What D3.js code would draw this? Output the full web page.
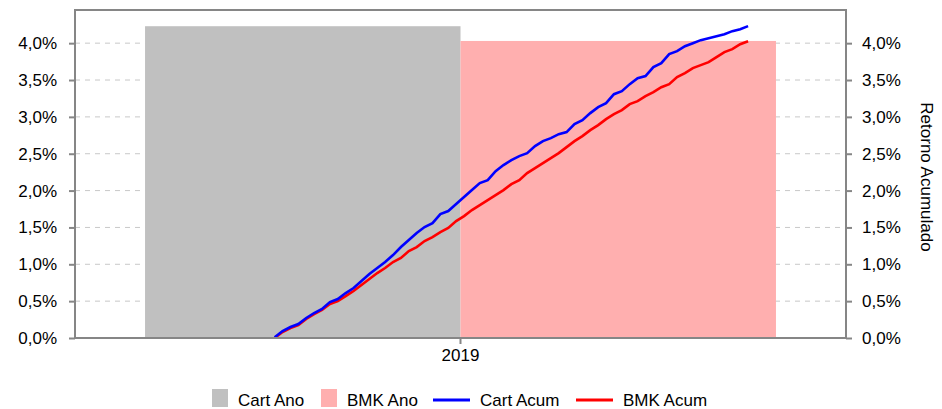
<!DOCTYPE html>
<html lang="pt">
<head>
    <meta charset="UTF-8">
    <title>Retorno Acumulado</title>
    <script src="https://d3js.org/d3.v7.min.js"></script>
    <style>
        body { margin: 0; background: #fff; }
        svg { display: block; font-family: "Liberation Sans", Arial, sans-serif; }
        .grid line { stroke: #c8c8c8; stroke-dasharray: 5,5; }
        .eixo { stroke: #868686; stroke-width: 2; fill: none; }
        .rotulo { font-size: 17px; fill: #000; }
    </style>
</head>
<body>
    <svg width="942" height="409"></svg>

    <script>
        // Dados
        const anos = ["2019"];
        const series = ["Cart Ano", "BMK Ano"];
        const cartAno = [4.23];
        const bmkAno = [4.03];
        const yTicks = [0, 0.5, 1, 1.5, 2, 2.5, 3, 3.5, 4];

        // pregões (índice) e retorno acumulado em %
        const pregoes = d3.range(61);
        const cartAcum = [0.01, 0.095, 0.149, 0.190, 0.271, 0.339, 0.393, 0.488, 0.529, 0.610,
            0.678, 0.773, 0.868, 0.949, 1.031, 1.125, 1.234, 1.329, 1.424, 1.505,
            1.559, 1.681, 1.722, 1.817, 1.912, 2.007, 2.102, 2.142, 2.264, 2.346,
            2.414, 2.468, 2.508, 2.603, 2.671, 2.712, 2.766, 2.793, 2.902, 2.956,
            3.051, 3.132, 3.186, 3.308, 3.349, 3.444, 3.525, 3.553, 3.675, 3.729,
            3.851, 3.892, 3.959, 4.000, 4.041, 4.068, 4.095, 4.122, 4.163, 4.190, 4.231];
        const bmkAcum = [0.0, 0.081, 0.136, 0.176, 0.258, 0.325, 0.380, 0.461, 0.502, 0.569,
            0.637, 0.719, 0.800, 0.881, 0.949, 1.031, 1.085, 1.180, 1.234, 1.315,
            1.369, 1.437, 1.492, 1.586, 1.654, 1.736, 1.803, 1.871, 1.939, 2.007,
            2.088, 2.142, 2.237, 2.305, 2.373, 2.441, 2.508, 2.590, 2.671, 2.739,
            2.820, 2.888, 2.969, 3.037, 3.092, 3.173, 3.214, 3.281, 3.336, 3.403,
            3.444, 3.539, 3.593, 3.661, 3.702, 3.742, 3.810, 3.878, 3.919, 3.986, 4.027];

        const svg = d3.select("svg");
        const m = { left: 75, right: 846, top: 10, bottom: 338 };
        const w = m.right - m.left;
        const fmt = d => d3.format(".1f")(d).replace(".", ",") + "%";

        const y = d3.scaleLinear().domain([0, 4.45]).range([m.bottom, m.top]);
        const x = d3.scaleBand().domain(anos).range([m.left, m.right]).paddingInner(0).paddingOuter(0.111);
        const xs = d3.scaleBand().domain(series).range([0, x.bandwidth()]);
        const xl = d3.scaleLinear().domain([0, 60]).range([m.left + 0.259 * w, m.left + 0.873 * w]);

        // grade
        svg.append("g").attr("class", "grid")
            .selectAll("line").data(yTicks.filter(d => d > 0)).enter().append("line")
            .attr("x1", m.left).attr("x2", m.right)
            .attr("y1", d => y(d)).attr("y2", d => y(d));

        // barras
        const cores = { "Cart Ano": "#c0c0c0", "BMK Ano": "#ffafaf" };
        const barras = anos.map((a, i) => [
            { ano: a, s: "Cart Ano", v: cartAno[i] },
            { ano: a, s: "BMK Ano", v: bmkAno[i] }
        ]).flat();
        svg.append("g").selectAll("rect").data(barras).enter().append("rect")
            .attr("x", d => x(d.ano) + xs(d.s))
            .attr("width", xs.bandwidth())
            .attr("y", d => y(d.v))
            .attr("height", d => y(0) - y(d.v))
            .attr("fill", d => cores[d.s]);

        // linhas
        const linha = vals => d3.line().x((d, i) => xl(pregoes[i])).y(d => y(d))(vals);
        svg.append("path").attr("d", linha(bmkAcum))
            .attr("fill", "none").attr("stroke", "#ff0000").attr("stroke-width", 2.6);
        svg.append("path").attr("d", linha(cartAcum))
            .attr("fill", "none").attr("stroke", "#0000ff").attr("stroke-width", 2.6);

        // moldura e eixos
        svg.append("path").attr("class", "eixo")
            .attr("d", `M${m.left},${m.bottom}V${m.top}H${m.right}V${m.bottom}Z`);

        const eixoE = d3.axisLeft(y).tickValues(yTicks).tickFormat(fmt).tickSize(6).tickPadding(12);
        const eixoD = d3.axisRight(y).tickValues(yTicks).tickFormat(fmt).tickSize(6).tickPadding(10);
        const eixoX = d3.axisBottom(x).tickSize(6).tickPadding(5);

        [[eixoE, `translate(${m.left},0)`], [eixoD, `translate(${m.right},0)`], [eixoX, `translate(0,${m.bottom})`]]
            .forEach(([ax, tr]) => {
                const g = svg.append("g").attr("transform", tr).call(ax);
                g.select(".domain").remove();
                g.selectAll(".tick line").attr("stroke", "#868686").attr("stroke-width", 2);
                g.selectAll("text").attr("class", "rotulo").attr("fill", "#000")
                    .style("font-size", "17px").style("font-family", "Liberation Sans, Arial, sans-serif");
            });

        svg.append("text").attr("class", "rotulo")
            .attr("transform", `translate(921,177) rotate(90)`)
            .attr("text-anchor", "middle").text("Retorno Acumulado");

        // legenda
        const legenda = [
            { nome: "Cart Ano", tipo: "rect", cor: "#c0c0c0", x: 212 },
            { nome: "BMK Ano", tipo: "rect", cor: "#ffafaf", x: 321 },
            { nome: "Cart Acum", tipo: "line", cor: "#0000ff", x: 433 },
            { nome: "BMK Acum", tipo: "line", cor: "#ff0000", x: 576 }
        ];
        const lg = svg.append("g").selectAll("g").data(legenda).enter().append("g")
            .attr("transform", d => `translate(${d.x},398)`);
        lg.filter(d => d.tipo === "rect").append("rect")
            .attr("x", 0).attr("y", -9).attr("width", 16).attr("height", 18).attr("fill", d => d.cor);
        lg.filter(d => d.tipo === "line").append("line")
            .attr("x1", 0).attr("x2", 37).attr("y1", 2).attr("y2", 2)
            .attr("stroke", d => d.cor).attr("stroke-width", 3);
        lg.append("text")
            .attr("x", d => d.tipo === "rect" ? 26 : 47).attr("y", 8)
            .style("font-size", "17px").text(d => d.nome);
    </script>
</body>
</html>
